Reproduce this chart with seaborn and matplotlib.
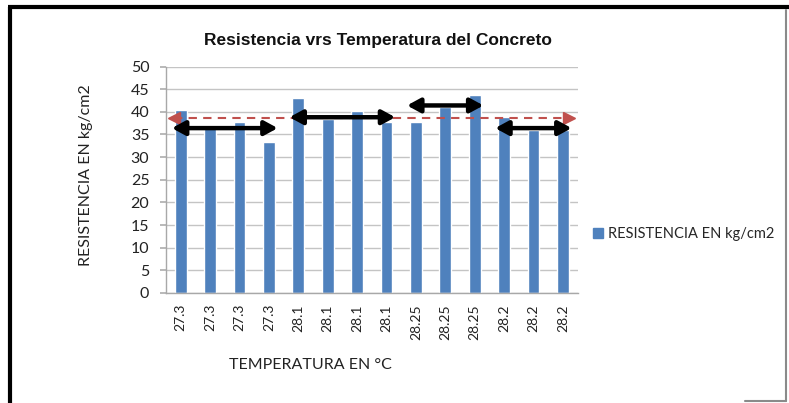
import numpy as np
import pandas as pd
import matplotlib
matplotlib.use("Agg")
import matplotlib.pyplot as plt
from matplotlib.lines import Line2D
import seaborn as sns

# Ensayos de resistencia por temperatura de colado
temperaturas = ["27.3", "27.3", "27.3", "27.3",
                "28.1", "28.1", "28.1", "28.1",
                "28.25", "28.25", "28.25",
                "28.2", "28.2", "28.2"]
resistencia = [40.3, 36.5, 37.7, 33.3,
               43.0, 38.4, 40.1, 37.7,
               37.7, 41.1, 43.7,
               38.8, 36.0, 36.0]

# Nivel de referencia de cada grupo de temperatura (flechas negras)
nivel_grupo = [36.4, 38.8, 41.4, 36.4]
grupo_inicio = [0, 4, 8, 11]
grupo_fin = [3, 7, 10, 13]

serie = "RESISTENCIA EN kg/cm2"
titulo = "Resistencia vrs Temperatura del Concreto"
eje_x = "TEMPERATURA EN °C"
eje_y = "RESISTENCIA EN kg/cm2"

df = pd.DataFrame({"muestra": range(len(resistencia)),
                   "temp": temperaturas,
                   "res": resistencia})

sns.set_theme(style="white")
plt.rcParams["font.family"] = ["Lato", "DejaVu Sans"]

fig = plt.figure(figsize=(7.89, 4.03), dpi=100)
ax = fig.add_axes([166 / 789, 1 - 293 / 403, 411.5 / 789, (293 - 66.5) / 403])

azul = "#4f81bd"
sns.barplot(data=df, x="muestra", y="res", color=azul, width=0.4,
            saturation=1, ax=ax, errorbar=None, zorder=2)

ax.set_ylim(0, 50)
ax.set_yticks(np.arange(0, 51, 5))
ax.set_xlim(-0.5, len(resistencia) - 0.5)
ax.set_xticks(range(len(temperaturas)))
ax.set_xticklabels(temperaturas, rotation=90, fontsize=10, color="#222222")
ax.tick_params(axis="y", labelsize=11.5, colors="#222222", length=4,
               color="#b0b0b0", direction="out", pad=8, left=True)
ax.tick_params(axis="x", length=0, pad=8)
ax.grid(axis="y", color="#c4c4c4", lw=1, zorder=0)
ax.set_axisbelow(True)
for s in ["top", "right"]:
    ax.spines[s].set_visible(False)
for s in ["left", "bottom"]:
    ax.spines[s].set_color("#a8a8a8")
    ax.spines[s].set_linewidth(1)

ax.set_xlabel(eje_x, fontsize=11.5, color="#222222")
ax.set_ylabel(eje_y, fontsize=11.5, color="#222222")
ax.xaxis.set_label_coords(0.35, -0.285)
ax.yaxis.set_label_coords(-0.178, 0.52)

# Línea de promedio general
promedio = float(np.mean(resistencia))
rojo = "#c0504d"
x0, x1 = -0.22, 13.2
ax.plot([x0, x1], [promedio, promedio], ls=(0, (4, 3)), color=rojo, lw=1.5,
        zorder=4)
ax.plot([x0], [promedio], marker="<", ms=8, color=rojo, mec=rojo, zorder=4)
ax.plot([x1], [promedio], marker=">", ms=8, color=rojo, mec=rojo, zorder=4)

# Flechas dobles por grupo
extension = 0.3
for ini, fin, nivel in zip(grupo_inicio, grupo_fin, nivel_grupo):
    ax.annotate("", xy=(fin + extension, nivel), xytext=(ini - extension, nivel),
                arrowprops=dict(arrowstyle="<|-|>,head_length=0.55,head_width=0.3",
                                color="black", lw=3.2, mutation_scale=14,
                                shrinkA=0, shrinkB=0),
                zorder=5)

fig.text(378 / 789, 1 - 40 / 403, titulo, ha="center", va="center",
         fontsize=12.5, fontweight="bold",
         family=["Liberation Sans Narrow", "Liberation Sans", "DejaVu Sans"],
         color="#111111")

handle = Line2D([], [], marker="s", ls="none", color=azul, ms=7)
fig.legend([handle], [serie], loc="center left",
           bbox_to_anchor=(585 / 789, 1 - 234 / 403), frameon=False,
           fontsize=10.5, handletextpad=0.2, handlelength=1.0,
           borderaxespad=0)

# Marco exterior
fig.add_artist(Line2D([9.5 / 789, 9.5 / 789], [0, 1 - 6.5 / 403],
                      color="black", lw=3, solid_capstyle="butt",
                      transform=fig.transFigure))
fig.add_artist(Line2D([8 / 789, 1], [1 - 6.5 / 403, 1 - 6.5 / 403],
                      color="black", lw=3, solid_capstyle="butt",
                      transform=fig.transFigure))
fig.add_artist(Line2D([786 / 789, 786 / 789], [1 - 10 / 403, 1 - 401 / 403],
                      color="#8a8a8a", lw=1.5, transform=fig.transFigure))
fig.add_artist(Line2D([745 / 789, 786 / 789], [1 - 401 / 403, 1 - 401 / 403],
                      color="#8a8a8a", lw=1.5, transform=fig.transFigure))

fig.savefig("out.png", dpi=100)
